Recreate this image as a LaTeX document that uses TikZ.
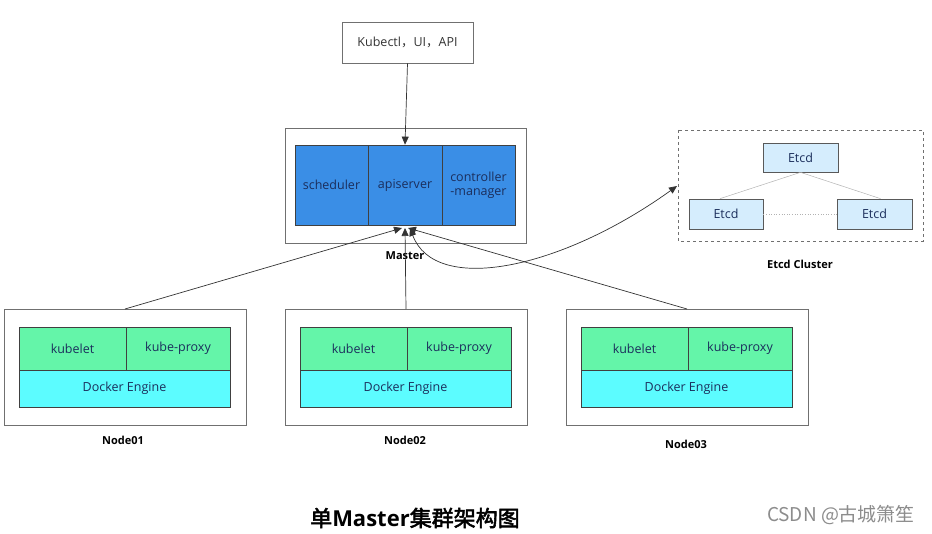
\documentclass[tikz,border=0pt]{standalone}
\usepackage{fontspec}
\setmainfont{Open Sans}
\newfontfamily\cjk{Noto Sans CJK SC}[AutoFakeBold=2.5]
\usetikzlibrary{arrows.meta}
\definecolor{mblue}{HTML}{3A8EE6}
\definecolor{mgreen}{HTML}{64F5A9}
\definecolor{mcyan}{HTML}{5CFCFF}
\definecolor{etcdfill}{HTML}{D5EDFD}
\definecolor{txtblue}{HTML}{1B2E5C}
\definecolor{boxline}{HTML}{707070}
\begin{document}
\begin{tikzpicture}[x=1pt,y=-1pt,
  outerbox/.style={draw=boxline,line width=0.8pt,fill=white},
  part/.style={draw=black!75,line width=0.7pt,text=txtblue,font=\fontsize{12.5}{14}\selectfont,align=center,inner sep=0pt},
  lbl/.style={font=\bfseries\fontsize{11}{12}\selectfont},
  conn/.style={draw=black!80,line width=0.7pt,-{Triangle[length=8pt,width=7pt]}}
]
\useasboundingbox (0,0) rectangle (932,534);
% client
\node[outerbox,minimum width=131pt,minimum height=41pt,font=\fontsize{12.5}{14}\selectfont,text=black!80] (cli) at (407.5,42.5) {Kubectl{\cjk ，}UI{\cjk ，}API};
% master
\draw[outerbox] (285,128) rectangle (526,243);
\node[part,fill=mblue,minimum width=73pt,minimum height=80pt] (sch) at (331.5,185) {scheduler};
\node[part,fill=mblue,minimum width=74pt,minimum height=80pt] (api) at (405,185) {apiserver};
\node[part,fill=mblue,minimum width=73pt,minimum height=80pt] (cm) at (478.5,185) {controller\\-manager};
\node[lbl] (mlbl) at (405,256) {Master};
% etcd
\draw[boxline,dashed,line width=0.9pt] (678,130) rectangle (923,241);
\coordinate (etcdin) at (677,186);
\node[part,fill=etcdfill,draw=black!65,minimum width=75pt,minimum height=29pt] (e1) at (800.5,157.5) {Etcd};
\node[part,fill=etcdfill,draw=black!65,minimum width=74pt,minimum height=30pt] (e2) at (726,214) {Etcd};
\node[part,fill=etcdfill,draw=black!65,minimum width=75pt,minimum height=30pt] (e3) at (874.5,214) {Etcd};
\draw[black!30,line width=0.5pt] (e1.south) -- ([xshift=-6pt]e2.north);
\draw[black!30,line width=0.5pt] (e1.south) -- ([xshift=6pt]e3.north);
\draw[black!30,dotted,line width=0.6pt] (e2.east) -- (e3.west);
\node[lbl] (elbl) at (800,264) {Etcd Cluster};
% worker nodes
\foreach \n/\ox/\lx/\ly in {1/4/123/440,2/285/405/440,3/566/686/444}{
  \draw[outerbox] (\ox,309) rectangle ({\ox+242},425);
  \node[part,fill=mgreen,minimum width=107pt,minimum height=43pt] (kl\n) at ({\ox+15+53.5},348.5) {kubelet};
  \node[part,fill=mgreen,minimum width=104pt,minimum height=43pt] (kp\n) at ({\ox+122+52},348.5) {kube-proxy};
  \node[part,fill=mcyan,minimum width=211pt,minimum height=37pt] (de\n) at ({\ox+15+105.5},388.5) {Docker Engine};
  \coordinate (top\n) at ({\ox+121},309);
  \node[lbl] (nl\n) at (\lx,\ly) {Node0\n};
}
% connectors
\coordinate (apib) at (405,228);
\draw[conn] (cli.south) -- (api.north);
\draw[conn] (top1) -- ([xshift=-3pt]apib);
\draw[conn] (top2) -- (apib);
\draw[conn] (top3) -- ([xshift=3pt]apib);
\draw[draw=black!80,line width=0.7pt,{Triangle[length=8pt,width=7pt]}-{Triangle[length=8pt,width=7pt]}] ([xshift=5pt]apib) .. controls (435,295) and (560,270) .. (etcdin);
% titles
\node[font=\bfseries\fontsize{22}{26}\selectfont] (title) at (415,518) {{\cjk 单}Master{\cjk 集群架构图}};
\node[font=\cjk\fontsize{19}{22}\selectfont,text=black!45] (wm) at (841,515) {CSDN @古城箫笙};
\end{tikzpicture}
\end{document}
